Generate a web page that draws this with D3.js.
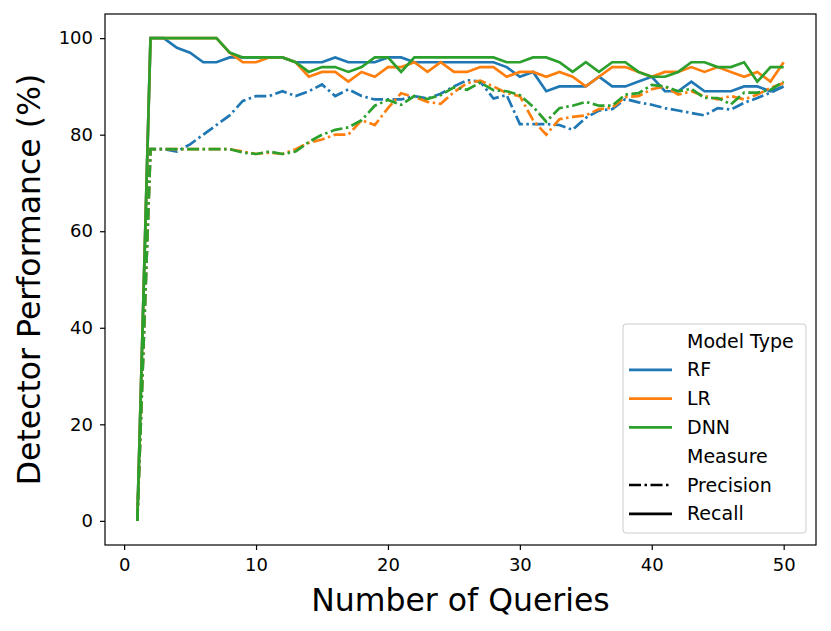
<!DOCTYPE html>
<html>
<head>
<meta charset="utf-8">
<script src="https://cdn.jsdelivr.net/npm/d3@7"></script>
<style>
  body { margin: 0; background: #fff; }
  svg { font-family: "DejaVu Sans", sans-serif; }
</style>
</head>
<body>
<div id="chart"></div>
<script>
// queries 1..50
var queries = d3.range(1, 51);

var rfRecall = [0, 100, 100, 98, 97, 95, 95, 96, 96, 96,
  96, 96, 95, 95, 95, 96, 95, 95, 95, 96,
  96, 95, 95, 95, 95, 95, 95, 95, 94, 92,
  93, 89, 90, 90, 90, 92, 90, 90, 91, 92,
  89, 89, 91, 89, 89, 89, 90, 90, 89, 90];
var lrRecall = [0, 100, 100, 100, 100, 100, 100, 97, 95, 95,
  96, 96, 95, 92, 93, 93, 91, 93, 92, 94,
  94, 95, 93, 95, 93, 93, 94, 94, 92, 93,
  93, 92, 93, 92, 90, 92, 94, 94, 93, 92,
  93, 93, 94, 93, 94, 93, 92, 93, 91, 95];
var dnnRecall = [0, 100, 100, 100, 100, 100, 100, 97, 96, 96,
  96, 96, 95, 93, 94, 94, 93, 94, 96, 96,
  93, 96, 96, 96, 96, 96, 96, 96, 95, 95,
  96, 96, 95, 93, 95, 93, 95, 95, 93, 92,
  92, 93, 95, 95, 94, 94, 95, 91, 94, 94];
var rfPrecision = [0, 77, 77, 76.5, 78, 80, 82, 84, 87, 88,
  88, 89, 88, 89, 90.4, 88, 89.4, 88, 87.3, 87.3,
  87.3, 88, 87.5, 88.5, 90, 91.3, 91, 87.5, 88.2, 82.2,
  82.2, 82.2, 82, 81, 83.5, 85, 85.3, 87.4, 86.7, 86.2,
  85.5, 85, 84.5, 84, 85.5, 85.2, 86.6, 87.6, 88.7, 90];
var lrPrecision = [0, 77, 77, 77, 77, 77, 77, 77, 76.5, 76,
  76.3, 76, 77, 78.3, 79, 80, 80, 83, 82, 85.5,
  88.6, 87.8, 86.8, 86.4, 88.8, 90.7, 91.2, 90, 88.6, 88,
  83, 80, 83.2, 83.7, 84, 85.3, 85.6, 87.8, 88, 89.4,
  90, 88.3, 89, 88, 87.3, 88, 87.3, 88.3, 89.7, 90.7];
var dnnPrecision = [0, 77, 77, 77, 77, 77, 77, 77, 76.3, 76,
  76.5, 76, 76.5, 78.5, 80, 81, 81.5, 83, 86, 87.2,
  86.2, 88, 87.4, 88.2, 89.8, 89.3, 90.8, 89.2, 89, 88.2,
  85.8, 82.7, 85.5, 86, 86.8, 86, 86, 88.3, 88.6, 90.3,
  90, 89, 89.5, 87.6, 87.6, 86.3, 88.7, 88.7, 89.3, 91];

var models = ["RF", "LR", "DNN"];
var modelColors = ["#1f77b4", "#ff7f0e", "#2ca02c"];
var measures = ["Precision", "Recall"];
var xTicks = [0, 10, 20, 30, 40, 50];
var yTicks = [0, 20, 40, 60, 80, 100];

var series = [
  {model: "RF", measure: "Precision", values: rfPrecision},
  {model: "RF", measure: "Recall", values: rfRecall},
  {model: "LR", measure: "Precision", values: lrPrecision},
  {model: "LR", measure: "Recall", values: lrRecall},
  {model: "DNN", measure: "Precision", values: dnnPrecision},
  {model: "DNN", measure: "Recall", values: dnnRecall}
];

var W = 831, H = 631;
var margin = {left: 105, right: 15, top: 14, bottom: 86};

var svg = d3.select("#chart").append("svg")
  .attr("width", W).attr("height", H);

var x = d3.scaleLinear().domain([-1.45, 52.45]).range([margin.left, W - margin.right]);
var y = d3.scaleLinear().domain([-5, 105]).range([H - margin.bottom, margin.top]);

var color = d3.scaleOrdinal().domain(models).range(modelColors);
var dash = d3.scaleOrdinal().domain(measures).range(["12,3.5,2.5,3.5", null]);

var line = d3.line()
  .x(function(d, i) { return x(queries[i]); })
  .y(function(d) { return y(d); });

svg.append("g").selectAll("path")
  .data(series)
  .join("path")
  .attr("d", function(s) { return line(s.values); })
  .attr("fill", "none")
  .attr("stroke", function(s) { return color(s.model); })
  .attr("stroke-width", 2.7)
  .attr("stroke-dasharray", function(s) { return dash(s.measure); });

// axes
var xAxis = svg.append("g")
  .attr("transform", "translate(0," + (H - margin.bottom) + ")")
  .call(d3.axisBottom(x).tickValues(xTicks).tickSize(5).tickPadding(8));
var yAxis = svg.append("g")
  .attr("transform", "translate(" + margin.left + ",0)")
  .call(d3.axisLeft(y).tickValues(yTicks).tickSize(5).tickPadding(7));

[xAxis, yAxis].forEach(function(a) {
  a.select(".domain").remove();
  a.selectAll("line").attr("stroke", "#000").attr("stroke-width", 1.2);
  a.selectAll("text").attr("font-size", 18).attr("font-family", "DejaVu Sans").attr("fill", "#000");
});

// frame
svg.append("rect")
  .attr("x", margin.left).attr("y", margin.top)
  .attr("width", W - margin.right - margin.left)
  .attr("height", H - margin.bottom - margin.top)
  .attr("fill", "none").attr("stroke", "#000").attr("stroke-width", 1.2);

svg.append("text")
  .attr("x", (margin.left + W - margin.right) / 2)
  .attr("y", 611)
  .attr("text-anchor", "middle")
  .attr("font-size", 31.5)
  .text("Number of Queries");

svg.append("text")
  .attr("transform", "translate(40," + (margin.top + H - margin.bottom) / 2 + ") rotate(-90)")
  .attr("text-anchor", "middle")
  .attr("font-size", 31.5)
  .text("Detector Performance (%)");

// legend
var legendRows = [
  {label: "Model Type"},
  {label: "RF", color: color("RF")},
  {label: "LR", color: color("LR")},
  {label: "DNN", color: color("DNN")},
  {label: "Measure"},
  {label: "Precision", color: "#000", dash: dash("Precision")},
  {label: "Recall", color: "#000", dash: null}
];

var lg = svg.append("g").attr("transform", "translate(623,324)");
lg.append("rect")
  .attr("width", 183).attr("height", 209)
  .attr("rx", 3)
  .attr("fill", "#fff").attr("fill-opacity", 0.8)
  .attr("stroke", "#ccc").attr("stroke-width", 1);

var row = lg.selectAll("g.row")
  .data(legendRows)
  .join("g")
  .attr("class", "row")
  .attr("transform", function(d, i) { return "translate(0," + (17 + i * 28.8) + ")"; });

row.filter(function(d) { return d.color; })
  .append("line")
  .attr("x1", 6).attr("x2", 49)
  .attr("stroke", function(d) { return d.color; })
  .attr("stroke-width", 2.7)
  .attr("stroke-dasharray", function(d) { return d.dash; });

row.append("text")
  .attr("x", 64)
  .attr("dy", "0.35em")
  .attr("font-size", 19)
  .text(function(d) { return d.label; });
</script>
</body>
</html>
